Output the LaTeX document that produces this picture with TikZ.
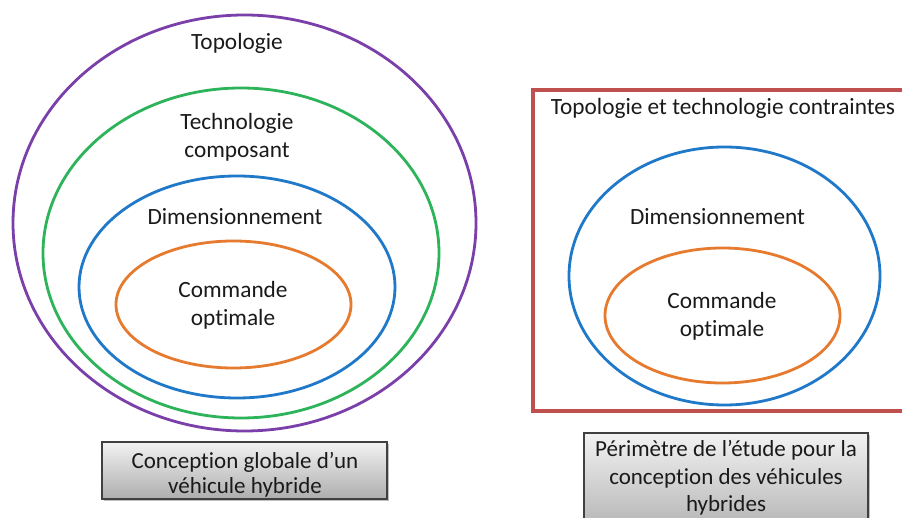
\documentclass[tikz,border=0pt]{standalone}
\usepackage{fontspec}
\setmainfont[Ligatures=NoCommon]{Carlito}
\usetikzlibrary{shadows}
\definecolor{cpurple}{HTML}{7A3FA8}
\definecolor{cgreen}{HTML}{2DB35A}
\definecolor{cblue}{HTML}{1F78C8}
\definecolor{corange}{HTML}{E67A2E}
\definecolor{cred}{HTML}{C0504D}
\definecolor{ctext}{HTML}{1A1A1A}
\tikzset{
  ring/.style={line width=2.8pt},
  lbl/.style={text=ctext, font=\fontsize{23.3}{28}\selectfont, align=center, inner sep=0pt},
  caption/.style={draw=black!75, line width=1.2pt, shade, top color=black!5, bottom color=black!32,
     drop shadow={shadow xshift=2pt, shadow yshift=-2pt, opacity=0.5}},
}
\begin{document}
\begin{tikzpicture}[x=1pt,y=-1pt]
\useasboundingbox (0,0) rectangle (902,518);
\fill[white] (0,0) rectangle (902,518);
% left figure
\draw[ring, cpurple] (244.5,223) ellipse [x radius=231.5pt, y radius=208pt];
\draw[ring, cgreen] (241,253) ellipse [x radius=198pt, y radius=165pt];
\draw[ring, cblue] (237,287) ellipse [x radius=158pt, y radius=111pt];
\draw[ring, corange] (233.5,304.5) ellipse [x radius=117.5pt, y radius=63.5pt];
\node[lbl] (topo) at (237,43) {Topologie};
\node[lbl] (techno) at (237,137) {Technologie\\composant};
\node[lbl] (dim1) at (235,217) {Dimensionnement};
\node[lbl] (cmd1) at (233,305.5) {Commande\\optimale};
% left caption
\path[caption] (102,442) rectangle (387,499);
\node[lbl, font=\fontsize{23}{25}\selectfont] (cap1) at (245,474.5) {Conception globale d’un\\véhicule hybride};
% right figure
\draw[cred, line width=3.2pt, drop shadow={shadow xshift=1.5pt, shadow yshift=-1.5pt, opacity=0.35}, fill=white] (533,90) rectangle (905,411);
\draw[ring, cblue] (724.5,276) ellipse [x radius=155.5pt, y radius=129pt];
\draw[ring, corange] (722.5,315.5) ellipse [x radius=117.5pt, y radius=67.5pt];
\node[lbl] (topo2) at (723,108) {Topologie et technologie contraintes};
\node[lbl] (dim2) at (717.5,217) {Dimensionnement};
\node[lbl] (cmd2) at (722,316.5) {Commande\\optimale};
% right caption
\path[caption] (584,433) rectangle (868,540);
\node[lbl, font=\fontsize{23}{27.5}\selectfont] (cap2) at (726,478) {Périmètre de l’étude pour la\\conception des véhicules\\hybrides};
\end{tikzpicture}
\end{document}
